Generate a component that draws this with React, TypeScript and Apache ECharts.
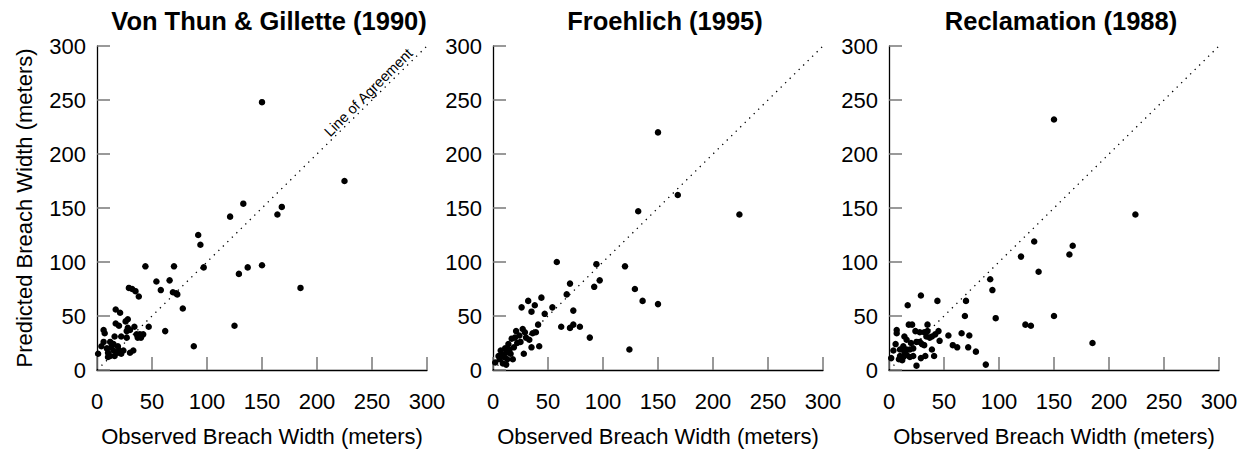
import React, { useEffect, useRef } from "react";
import * as echarts from "echarts";

const titles = ["Von Thun & Gillette (1990)", "Froehlich (1995)", "Reclamation (1988)"];
const xTicks = [0, 50, 100, 150, 200, 250, 300];
const xAxisName = "Observed Breach Width (meters)";
const yAxisName = "Predicted Breach Width (meters)";
const agreementLabel = "Line of Agreement";
const agreementLine = [[0, 0], [300, 300]];

const vtgPoints = [
  [150, 248], [225, 175], [133, 154], [121, 142], [168, 151], [164, 144], [92, 125], [94, 116],
  [44, 96], [70, 96], [97, 95], [150, 97], [137, 95], [129, 89], [54, 82], [66, 83], [58, 74],
  [29, 76], [32, 75], [35, 73], [38, 68], [69, 72], [72, 71], [73, 70], [185, 76], [78, 57],
  [17, 56], [21, 53], [62, 36], [125, 41], [88, 22], [47, 40],
  [28, 47], [26, 45], [17, 43], [20, 41], [6, 37], [7, 34], [28, 39], [27, 36], [30, 37], [34, 40],
  [36, 33], [39, 33], [42, 33], [37, 30], [40, 30], [16, 31], [22, 31], [27, 30], [6, 26], [12, 26],
  [15, 24], [19, 22], [4, 22], [9, 20], [10, 16], [15, 18], [19, 16], [24, 18], [12, 13], [16, 13],
  [33, 18], [30, 16], [1, 15], [10, 12], [22, 15], [20, 18], [13, 21],
];

const froehlichPoints = [
  [150, 220], [168, 162], [224, 144], [132, 147], [58, 100], [94, 98], [120, 96], [97, 83], [92, 77],
  [129, 75], [136, 64], [150, 61], [124, 19], [88, 30], [70, 80], [67, 70], [73, 55], [62, 40],
  [70, 39], [73, 42], [79, 40], [54, 58], [44, 67], [32, 64], [38, 60], [26, 58], [35, 54], [47, 52],
  [41, 42], [42, 22], [35, 21], [28, 15],
  [21, 36], [27, 38], [29, 35], [33, 28], [36, 34], [39, 35], [17, 29], [22, 25], [25, 26], [19, 21],
  [7, 18], [12, 16], [15, 19], [10, 12], [13, 10], [18, 10], [2, 7], [6, 10], [16, 15], [9, 6],
  [12, 5], [20, 30], [30, 30], [5, 13], [14, 24], [24, 32], [8, 14], [11, 20],
];

const reclamationPoints = [
  [150, 232], [224, 144], [132, 119], [167, 115], [164, 107], [120, 105], [136, 91], [92, 84], [94, 74],
  [70, 64], [69, 50], [97, 48], [150, 50], [124, 42], [129, 41], [185, 25], [88, 5], [29, 69], [44, 64],
  [17, 60], [18, 42], [21, 42], [35, 42], [66, 34], [73, 32], [54, 32], [58, 23], [62, 21], [72, 21],
  [79, 17], [46, 27], [45, 36], [42, 33], [39, 19], [41, 13], [25, 4],
  [33, 13], [29, 11], [24, 36], [28, 35], [32, 35], [35, 36], [37, 30], [34, 31], [39, 31], [25, 26],
  [30, 24], [32, 23], [14, 31], [16, 28], [7, 37], [7, 34], [6, 24], [4, 18], [2, 11], [10, 19],
  [13, 22], [16, 19], [19, 19], [22, 20], [10, 13], [13, 12], [16, 14], [9, 10], [12, 9], [19, 12],
  [22, 13], [28, 26], [20, 25], [14, 17],
];

const panels = [vtgPoints, froehlichPoints, reclamationPoints];
const FONT = "'Liberation Sans', Arial, Helvetica, sans-serif";

export default function App() {
  const ref = useRef<HTMLDivElement>(null);
  useEffect(() => {
    if (!ref.current) return;
    const chart = echarts.init(ref.current, null, { renderer: "svg" });
    const lefts = [97, 493, 889];
    const gw = 330;
    const grids = lefts.map((l) => ({ left: l, top: 46, width: gw, height: 328 }));
    const axisCommon = {
      type: "value" as const,
      min: 0,
      max: 300,
      interval: 50,
      splitLine: { show: false },
      axisLine: { show: true, lineStyle: { color: "#000", width: 1.3 } },
      axisTick: { show: true, inside: true, length: 13, lineStyle: { color: "#777", width: 1.5 } },
      axisLabel: { color: "#000", fontSize: 22, fontFamily: FONT },
      nameTextStyle: { color: "#000", fontSize: 22, fontFamily: FONT },
    };
    const xAxes = lefts.map((_, i) => ({
      ...axisCommon,
      gridIndex: i,
      name: xAxisName,
      nameLocation: "middle",
      nameGap: 55,
      axisLabel: { ...axisCommon.axisLabel, margin: 20, customValues: xTicks },
    }));
    const yAxes = lefts.map((_, i) => ({
      ...axisCommon,
      gridIndex: i,
      name: i === 0 ? yAxisName : "",
      nameLocation: "middle",
      nameGap: 62,
      axisLabel: { ...axisCommon.axisLabel, margin: 11 },
    }));
    const series: any[] = [];
    panels.forEach((pts, i) => {
      series.push({
        type: "line",
        xAxisIndex: i,
        yAxisIndex: i,
        data: agreementLine,
        showSymbol: false,
        symbol: "none",
        silent: true,
        lineStyle: { color: "#000", width: 1.3, type: [1.3, 5] },
      });
      series.push({
        type: "scatter",
        xAxisIndex: i,
        yAxisIndex: i,
        data: pts,
        symbolSize: 6.5,
        itemStyle: { color: "#000", opacity: 1 },
      });
    });
    series.push({
      type: "scatter",
      xAxisIndex: 0,
      yAxisIndex: 0,
      data: [[257, 257]],
      symbolSize: 0,
      silent: true,
      itemStyle: { opacity: 0 },
      label: {
        show: true,
        formatter: agreementLabel,
        position: "inside",
        rotate: 45,
        offset: [-8, -8],
        color: "#000",
        opacity: 1,
        textBorderWidth: 0,
        fontSize: 14.5,
        fontFamily: FONT,
      },
    });
    chart.setOption({
      animation: false,
      backgroundColor: "#fff",
      title: titles.map((t, i) => ({
        text: t,
        left: lefts[i] + gw / 2 + 2,
        top: 3,
        textAlign: "center",
        textStyle: { color: "#000", fontSize: 25.5, fontWeight: "bold", fontFamily: FONT },
      })),
      grid: grids,
      xAxis: xAxes,
      yAxis: yAxes,
      series,
    });
    return () => chart.dispose();
  }, []);
  return (
    <div
      ref={ref}
      style={{ position: "fixed", left: 0, top: 0, width: 1244, height: 452, background: "#fff" }}
    />
  );
}
